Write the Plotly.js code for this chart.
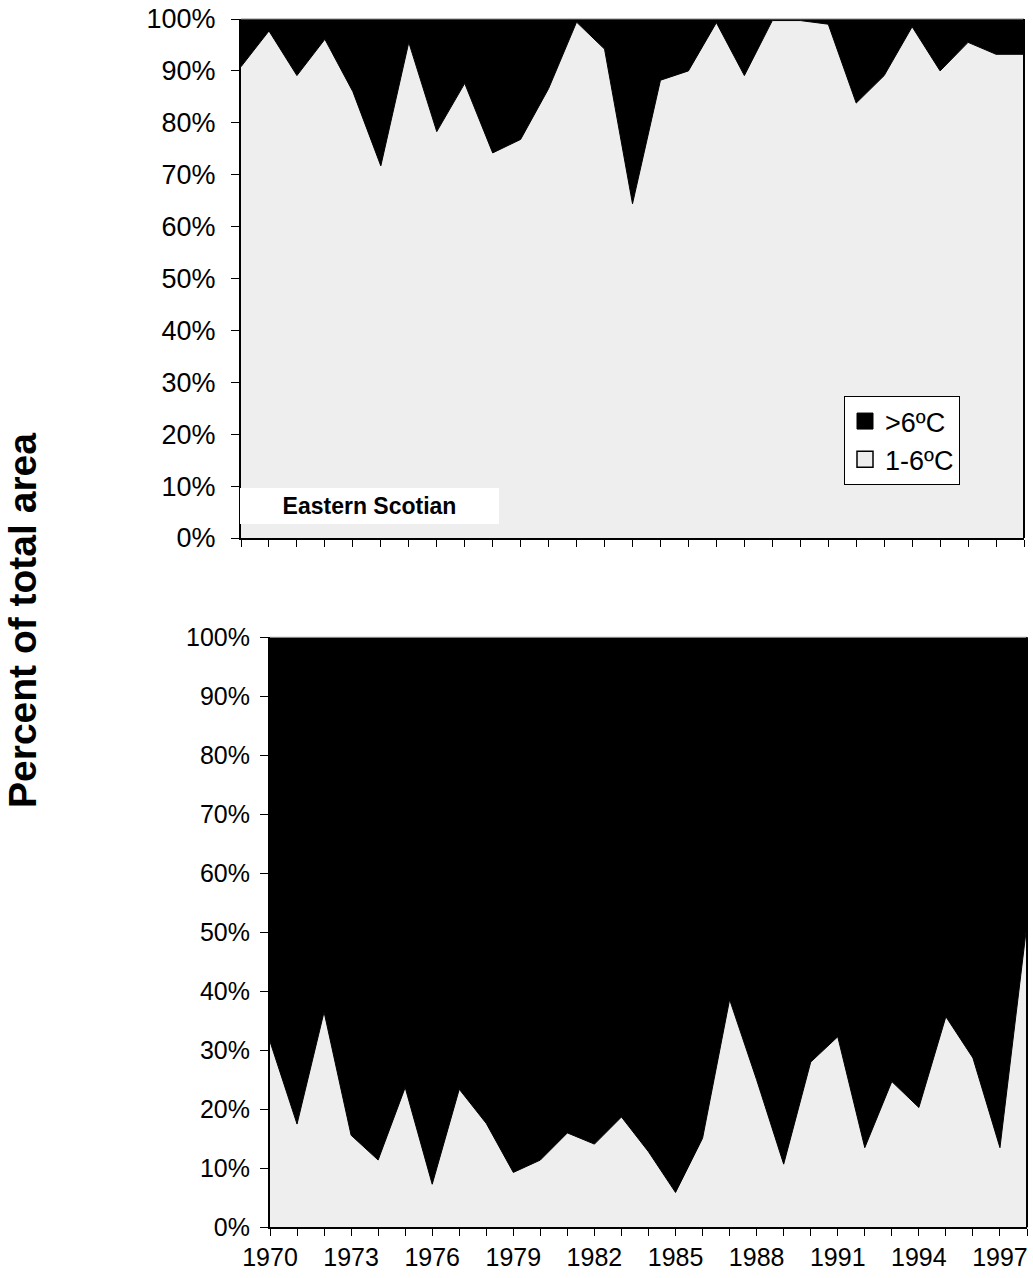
<!DOCTYPE html>
<html>
<head>
<meta charset="utf-8">
<script src="https://cdn.plot.ly/plotly-3.0.1.min.js"></script>
<style>
html,body{margin:0;padding:0;background:#fff;}
#chart{width:1033px;height:1278px;}
</style>
</head>
<body>
<div id="chart"></div>
<script>
// ---- data ----
const years = [1970,1971,1972,1973,1974,1975,1976,1977,1978,1979,1980,1981,1982,1983,1984,
               1985,1986,1987,1988,1989,1990,1991,1992,1993,1994,1995,1996,1997,1998];
// share of area at 1-6 ºC (percent) – Eastern Scotian (top panel)
const topCool = [90.8,97.7,89.1,96.1,86.0,71.7,95.5,78.3,87.6,74.2,76.8,86.6,99.4,94.2,64.4,
                 88.2,90.0,99.3,89.1,99.7,99.7,99.0,83.8,89.1,98.5,90.0,95.5,93.2,93.2];
// share of area at 1-6 ºC (percent) – bottom panel
const botCool = [31.5,17.5,36.5,15.6,11.4,23.7,7.3,23.4,17.6,9.3,11.4,16.0,14.1,18.7,12.8,
                 5.9,15.1,38.6,25.0,10.7,28.0,32.3,13.5,24.7,20.3,35.7,28.7,13.5,51.5];
const yTickVals = [0,10,20,30,40,50,60,70,80,90,100];
const yTickText = ['0%','10%','20%','30%','40%','50%','60%','70%','80%','90%','100%'];
const bottomTickText = ['1970','','','1973','','','1976','','','1979','','','1982','','',
                        '1985','','','1988','','','1991','','','1994','','','1997',''];
const seriesNames = ['>6ºC','1-6ºC'];
const panelLabel = 'Eastern Scotian';
const yTitle = 'Percent of total area';

const FONT = 'Liberation Sans, Arial, Helvetica, sans-serif';
const LIGHT = '#eeeeee';

function warm(arr){ return arr.map(v => 100 - v); }

const traces = [
  {x: years, y: topCool, xaxis:'x', yaxis:'y', stackgroup:'top', mode:'lines',
   fillcolor: LIGHT, line:{width:1, color:'#000'}, showlegend:false, hoverinfo:'skip'},
  {x: years, y: warm(topCool), xaxis:'x', yaxis:'y', stackgroup:'top', mode:'lines',
   fillcolor:'#000', line:{width:0, color:'#000'}, showlegend:false, hoverinfo:'skip'},
  {x: years, y: botCool, xaxis:'x2', yaxis:'y2', stackgroup:'bot', mode:'lines',
   fillcolor: LIGHT, line:{width:1, color:'#000'}, showlegend:false, hoverinfo:'skip'},
  {x: years, y: warm(botCool), xaxis:'x2', yaxis:'y2', stackgroup:'bot', mode:'lines',
   fillcolor:'#000', line:{width:0, color:'#000'}, showlegend:false, hoverinfo:'skip'},
  // legend entries
  {x:[null], y:[null], xaxis:'x', yaxis:'y', type:'scatter', mode:'markers', name: seriesNames[0],
   marker:{symbol:'square', size:20, color:'#000', line:{color:'#000', width:1}}},
  {x:[null], y:[null], xaxis:'x', yaxis:'y', type:'scatter', mode:'markers', name: seriesNames[1],
   marker:{symbol:'square', size:20, color: LIGHT, line:{color:'#000', width:1.5}}}
];

const xTop = [241/1033, 1024/1033];
const yTop = [1-538/1278, 1-19/1278];
const xBot = [270/1033, 1027/1033];
const yBot = [1-1227.3/1278, 1-637.3/1278];

const commonX = {
  range:[1970,1998], tickmode:'array', tickvals: years, ticks:'outside', ticklen:7,
  tickwidth:1, tickcolor:'#000', showline:true, linecolor:'#000', linewidth:2,
  showgrid:false, zeroline:false, fixedrange:true
};
const commonY = {
  range:[0,100], tickmode:'array', tickvals: yTickVals, ticktext: yTickText, ticks:'outside',
  ticklen:8, tickwidth:1, tickcolor:'#000', showline:true, linecolor:'#000', linewidth:2,
  showgrid:false, zeroline:false, fixedrange:true
};

const layout = {
  width:1033, height:1278,
  margin:{l:0,r:0,t:0,b:0},
  paper_bgcolor:'#fff', plot_bgcolor:'#fff',
  font:{family:FONT, color:'#000'},
  showlegend:true,
  legend:{x:844/1033, y:1-396/1278, xanchor:'left', yanchor:'top', bgcolor:'#fff',
          bordercolor:'#000', borderwidth:1, font:{family:FONT, size:27, color:'#000'},
          traceorder:'normal', itemwidth:30, itemsizing:'trace', tracegroupgap:0},
  xaxis: Object.assign({}, commonX, {domain:xTop, anchor:'y', showticklabels:false}),
  yaxis: Object.assign({}, commonY, {domain:yTop, anchor:'x', tickfont:{family:FONT,size:27},
          ticklabelstandoff:10}),
  xaxis2: Object.assign({}, commonX, {domain:xBot, anchor:'y2', ticktext: bottomTickText,
          tickfont:{family:FONT,size:25}}),
  yaxis2: Object.assign({}, commonY, {domain:yBot, anchor:'x2', tickfont:{family:FONT,size:25},
          ticklabelstandoff:5}),
  shapes:[
    {type:'line', xref:'paper', yref:'paper', x0:xTop[0], x1:xTop[1], y0:yTop[1], y1:yTop[1],
     line:{color:'#888', width:1}},
    {type:'line', xref:'paper', yref:'paper', x0:xTop[1], x1:xTop[1], y0:yTop[0], y1:yTop[1],
     line:{color:'#000', width:2}},
    {type:'line', xref:'paper', yref:'paper', x0:xBot[0], x1:xBot[1], y0:yBot[1], y1:yBot[1],
     line:{color:'#888', width:1}},
    {type:'line', xref:'paper', yref:'paper', x0:xBot[1], x1:xBot[1], y0:yBot[0], y1:yBot[1],
     line:{color:'#000', width:2}}
  ],
  annotations:[
    {text:'<b>'+panelLabel+'</b>', xref:'paper', yref:'paper', x:369.5/1033, y:1-505.8/1278,
     xanchor:'center', yanchor:'middle', showarrow:false, bgcolor:'#fff', borderwidth:0,
     borderpad:0, width:259, height:36, font:{family:FONT, size:23, color:'#000'}},
    {text:'<b>'+yTitle+'</b>', xref:'paper', yref:'paper', x:22/1033, y:1-621/1278,
     xanchor:'center', yanchor:'middle', showarrow:false, textangle:-90,
     font:{family:FONT, size:39, color:'#000'}}
  ]
};

Plotly.newPlot('chart', traces, layout, {staticPlot:true, displayModeBar:false});
</script>
</body>
</html>
